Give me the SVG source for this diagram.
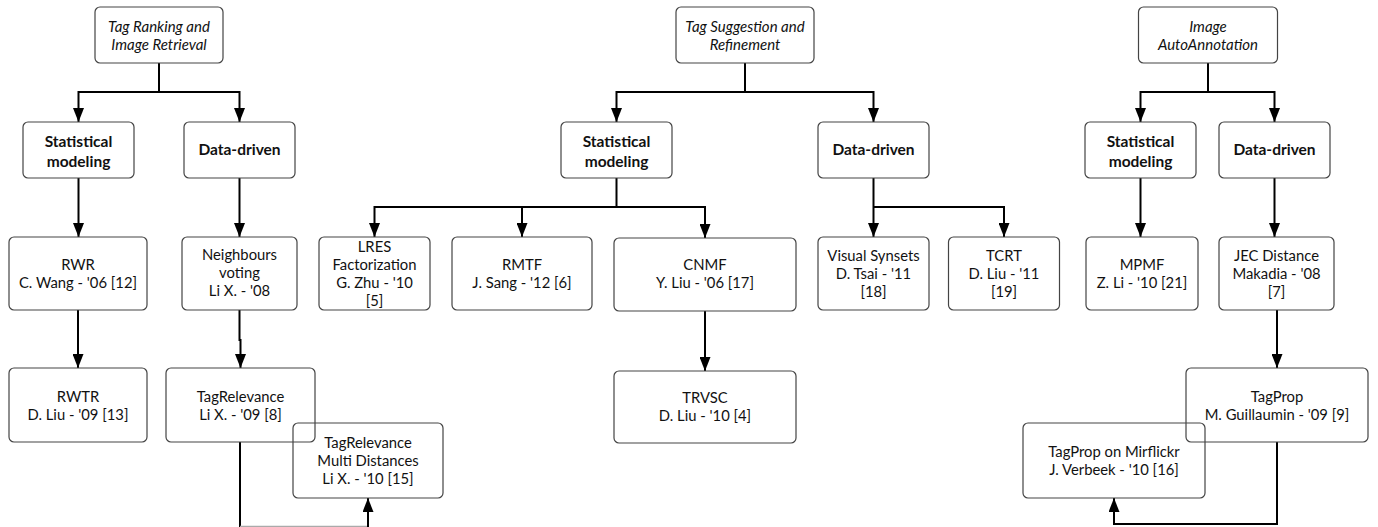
<svg xmlns="http://www.w3.org/2000/svg" width="1378" height="527" viewBox="0 0 1378 527">
<style>
.box{fill:none;stroke:#444;stroke-width:1.2}
.t{font-family:Lato,"Open Sans","Liberation Sans",sans-serif;font-size:14.8px;fill:#111;text-anchor:middle}
.b{font-weight:bold;font-size:15.5px}
.i{font-style:italic;font-size:15px}
.c{fill:none;stroke:#000;stroke-width:2}
</style>
<defs>
<marker id="ah" markerUnits="userSpaceOnUse" markerWidth="14" markerHeight="11" refX="14" refY="5.5" orient="auto">
<path d="M0,0 L14,5.5 L0,11 z" fill="#000"/>
</marker>
</defs>
<g id="connectors">
<path class="c" d="M159,63 V92 H78.5 V122" marker-end="url(#ah)"/>
<path class="c" d="M159,92 H239.5 V122" marker-end="url(#ah)"/>
<path class="c" d="M78.5,178 V237" marker-end="url(#ah)"/>
<path class="c" d="M239.5,178 V237" marker-end="url(#ah)"/>
<path class="c" d="M78,310 V368" marker-end="url(#ah)"/>
<path class="c" d="M239.5,310 V340 H240.5 V368" marker-end="url(#ah)"/>
<path class="c" d="M240,442 V527"/>
<path d="M240,526.5 H368" fill="none" stroke="#aaa" stroke-width="1.5"/>
<path class="c" d="M368,527 V498" marker-end="url(#ah)"/>
<path class="c" d="M745,63 V92 H616.5 V122" marker-end="url(#ah)"/>
<path class="c" d="M745,92 H873.5 V122" marker-end="url(#ah)"/>
<path class="c" d="M616.5,178 V207 H374.5 V237" marker-end="url(#ah)"/>
<path class="c" d="M522,207 V237" marker-end="url(#ah)"/>
<path class="c" d="M616.5,207 H705 V238" marker-end="url(#ah)"/>
<path class="c" d="M705,311 V371" marker-end="url(#ah)"/>
<path class="c" d="M873.5,178 V237" marker-end="url(#ah)"/>
<path class="c" d="M873.5,207 H1004 V237" marker-end="url(#ah)"/>
<path class="c" d="M1208,63 V92 H1140.5 V122" marker-end="url(#ah)"/>
<path class="c" d="M1208,92 H1274.5 V122" marker-end="url(#ah)"/>
<path class="c" d="M1140.5,178 V237" marker-end="url(#ah)"/>
<path class="c" d="M1274.5,178 V237" marker-end="url(#ah)"/>
<path class="c" d="M1277,310 V368" marker-end="url(#ah)"/>
<path class="c" d="M1277,442 V524 H1114 V498" marker-end="url(#ah)"/>
</g>
<g id="n-tag-ranking"><rect class="box" x="95" y="7" width="128" height="56" rx="5"/>
<text class="t i" x="159" y="31.5">Tag Ranking and</text><text class="t i" x="159" y="49.5">Image Retrieval</text></g>
<g id="n-stat1"><rect class="box" x="23" y="122" width="111" height="56" rx="5"/>
<text class="t b" x="78.5" y="147">Statistical</text><text class="t b" x="78.5" y="167">modeling</text></g>
<g id="n-data1"><rect class="box" x="184" y="122" width="111" height="56" rx="5"/>
<text class="t b" x="239.5" y="155">Data-driven</text></g>
<g id="n-rwr"><rect class="box" x="9" y="237" width="138" height="73" rx="5"/>
<text class="t" x="78" y="270">RWR</text><text class="t" x="78" y="288">C. Wang - '06 [12]</text></g>
<g id="n-neigh"><rect class="box" x="182" y="237" width="115" height="73" rx="5"/>
<text class="t" x="239.5" y="260">Neighbours</text><text class="t" x="239.5" y="278">voting</text><text class="t" x="239.5" y="296">Li X. - '08</text></g>
<g id="n-rwtr"><rect class="box" x="9" y="368" width="138" height="74" rx="5"/>
<text class="t" x="78" y="402">RWTR</text><text class="t" x="78" y="420">D. Liu - '09 [13]</text></g>
<g id="n-tagrel"><rect class="box" x="166" y="368" width="149" height="74" rx="5"/>
<text class="t" x="240.5" y="402">TagRelevance</text><text class="t" x="240.5" y="420">Li X. - '09 [8]</text></g>
<g id="n-tagrel-multi"><rect class="box" x="293" y="423" width="150" height="75" rx="5"/>
<text class="t" x="368" y="448">TagRelevance</text><text class="t" x="368" y="466">Multi Distances</text><text class="t" x="368" y="484">Li X. - '10 [15]</text></g>
<g id="n-tag-sugg"><rect class="box" x="676" y="7" width="138" height="56" rx="5"/>
<text class="t i" x="745" y="31.5">Tag Suggestion and</text><text class="t i" x="745" y="49.5">Refinement</text></g>
<g id="n-stat2"><rect class="box" x="561" y="122" width="111" height="56" rx="5"/>
<text class="t b" x="616.5" y="147">Statistical</text><text class="t b" x="616.5" y="167">modeling</text></g>
<g id="n-data2"><rect class="box" x="818" y="122" width="111" height="56" rx="5"/>
<text class="t b" x="873.5" y="155">Data-driven</text></g>
<g id="n-lres"><rect class="box" x="319" y="237" width="111" height="73" rx="5"/>
<text class="t" x="374.5" y="252">LRES</text><text class="t" x="374.5" y="270">Factorization</text><text class="t" x="374.5" y="288">G. Zhu - '10</text><text class="t" x="374.5" y="306">[5]</text></g>
<g id="n-rmtf"><rect class="box" x="452" y="237" width="140" height="73" rx="5"/>
<text class="t" x="522" y="270">RMTF</text><text class="t" x="522" y="288">J. Sang - '12 [6]</text></g>
<g id="n-cnmf"><rect class="box" x="614" y="238" width="182" height="73" rx="5"/>
<text class="t" x="705" y="270">CNMF</text><text class="t" x="705" y="288">Y. Liu - '06 [17]</text></g>
<g id="n-trvsc"><rect class="box" x="614" y="371" width="182" height="72" rx="5"/>
<text class="t" x="705" y="403">TRVSC</text><text class="t" x="705" y="421">D. Liu - '10 [4]</text></g>
<g id="n-visual"><rect class="box" x="818" y="237" width="111" height="73" rx="5"/>
<text class="t" x="873.5" y="261">Visual Synsets</text><text class="t" x="873.5" y="279">D. Tsai - '11</text><text class="t" x="873.5" y="297">[18]</text></g>
<g id="n-tcrt"><rect class="box" x="948.5" y="237" width="111" height="73" rx="5"/>
<text class="t" x="1004" y="261">TCRT</text><text class="t" x="1004" y="279">D. Liu - '11</text><text class="t" x="1004" y="297">[19]</text></g>
<g id="n-image-auto"><rect class="box" x="1138.5" y="7" width="139" height="56" rx="5"/>
<text class="t i" x="1208" y="31.5">Image</text><text class="t i" x="1208" y="49.5">AutoAnnotation</text></g>
<g id="n-stat3"><rect class="box" x="1085" y="122" width="111" height="56" rx="5"/>
<text class="t b" x="1140.5" y="147">Statistical</text><text class="t b" x="1140.5" y="167">modeling</text></g>
<g id="n-data3"><rect class="box" x="1219" y="122" width="111" height="56" rx="5"/>
<text class="t b" x="1274.5" y="155">Data-driven</text></g>
<g id="n-mpmf"><rect class="box" x="1086" y="237" width="112" height="73" rx="5"/>
<text class="t" x="1142" y="270">MPMF</text><text class="t" x="1142" y="288">Z. Li - '10 [21]</text></g>
<g id="n-jec"><rect class="box" x="1219" y="237" width="115" height="73" rx="5"/>
<text class="t" x="1276.5" y="261">JEC Distance</text><text class="t" x="1276.5" y="279">Makadia - '08</text><text class="t" x="1276.5" y="297">[7]</text></g>
<g id="n-tagprop"><rect class="box" x="1186" y="368" width="182" height="74" rx="5"/>
<text class="t" x="1277" y="402">TagProp</text><text class="t" x="1277" y="420">M. Guillaumin - '09 [9]</text></g>
<g id="n-tagprop-mir"><rect class="box" x="1023" y="423" width="182" height="75" rx="5"/>
<text class="t" x="1114" y="457">TagProp on Mirflickr</text><text class="t" x="1114" y="475">J. Verbeek - '10 [16]</text></g>
</svg>
